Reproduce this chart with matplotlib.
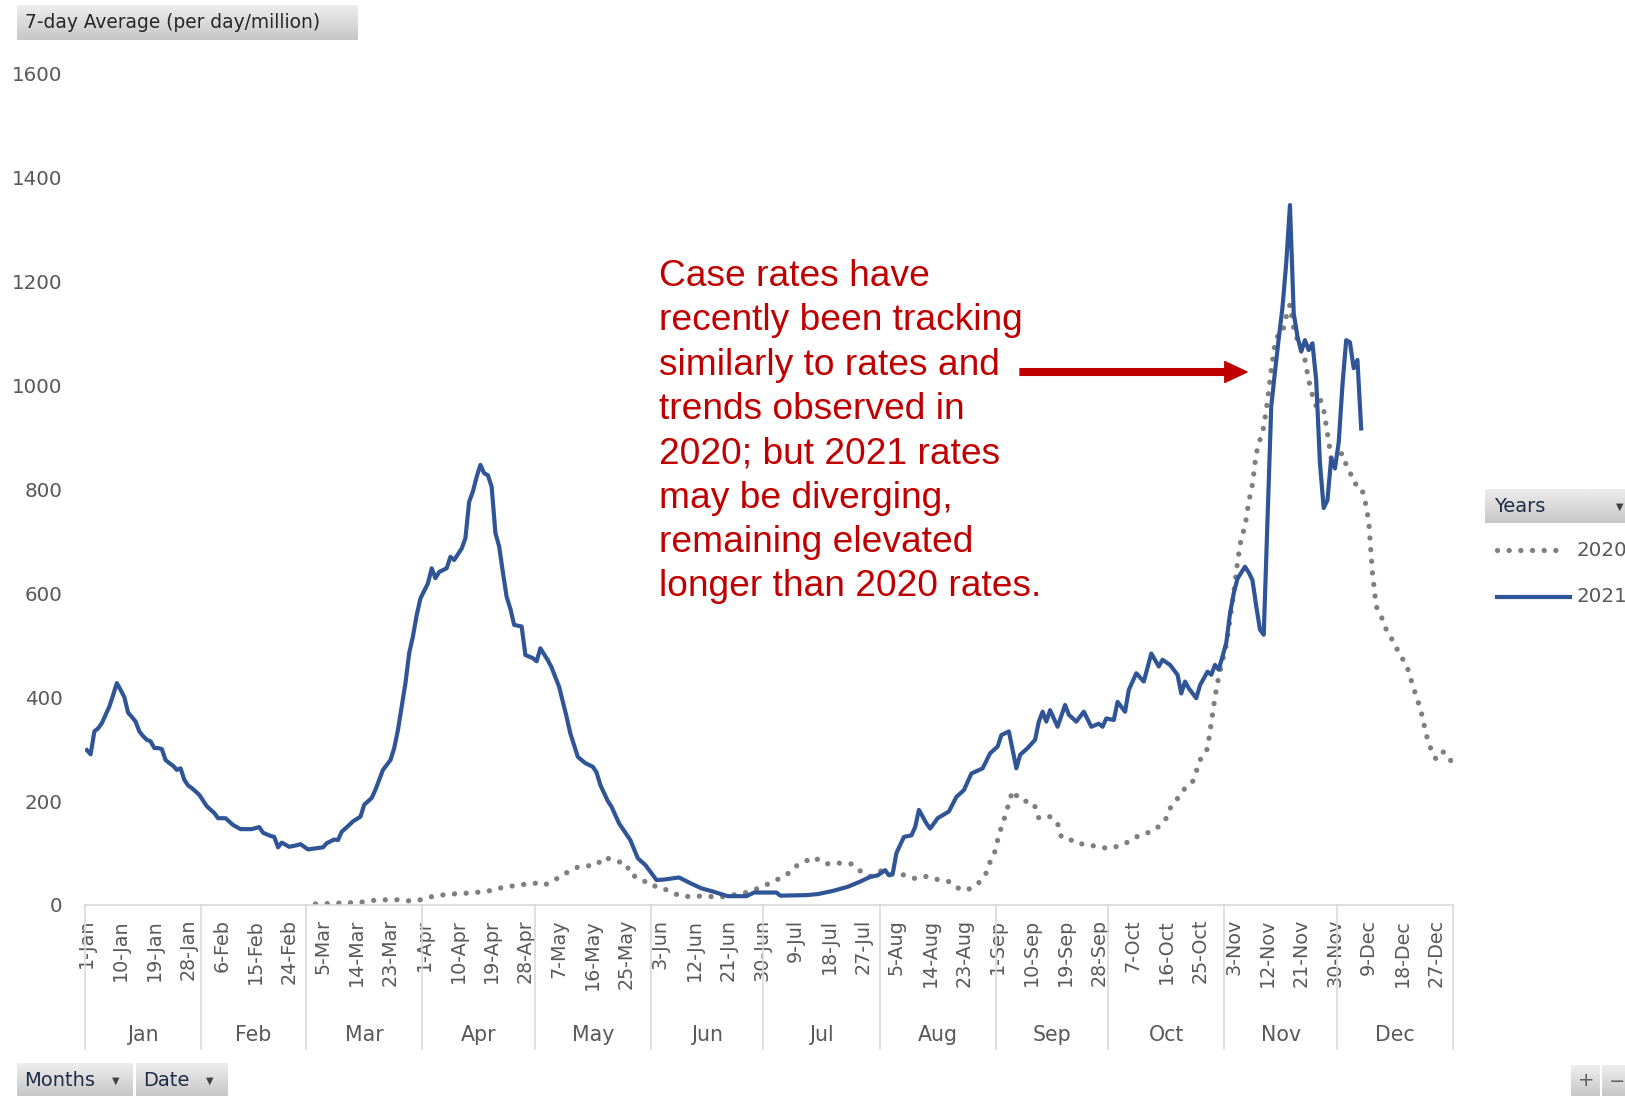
import matplotlib
matplotlib.use("Agg")
import matplotlib.pyplot as plt
import numpy as np
import pandas as pd
from matplotlib.lines import Line2D
from matplotlib.patches import FancyArrowPatch

# 7-day average cases per day per million, by day of year
days_2021 = [1, 2, 3, 4, 5, 6, 7, 8, 9, 10, 11, 12, 13, 14, 15, 16, 17, 18, 19, 20,
             21, 22, 23, 24, 25, 26, 27, 28, 29, 31, 33, 35, 36, 38, 40, 42, 45, 47, 48, 50,
             51, 52, 53, 55, 57, 58, 60, 62, 64, 65, 67, 68, 69, 71, 72, 74, 75, 77, 78, 79,
             80, 82, 83, 84, 85, 86, 87, 88, 89, 90, 92, 93, 94, 95, 97, 98, 99, 101, 102, 103,
             104, 105, 106, 107, 108, 109, 110, 111, 112, 113, 114, 115, 117, 118, 120, 121, 122, 124, 125, 127,
             129, 130, 132, 134, 136, 137, 138, 140, 141, 143, 146, 148, 150, 153, 155, 159, 162, 165, 168, 172,
             177, 179, 185, 186, 193, 196, 200, 204, 207, 210, 212, 214, 215, 216, 217, 219, 221, 222, 223, 225,
             226, 228, 231, 233, 235, 237, 240, 242, 244, 245, 247, 248, 249, 250, 252, 254, 255, 256, 257, 258,
             259, 260, 262, 263, 265, 267, 269, 271, 272, 273, 275, 276, 278, 279, 281, 283, 285, 287, 288, 290,
             292, 293, 294, 295, 297, 298, 300, 301, 302, 303, 305, 306, 307, 308, 310, 311, 312, 313, 314, 315,
             316, 317, 318, 319, 320, 321, 322, 323, 324, 325, 326, 327, 328, 329, 330, 331, 332, 333, 334, 335,
             336, 337, 338, 339, 340, 341]
cases_2021 = [298, 290, 334, 340, 350, 366, 382, 404, 427, 414, 400, 370, 362, 353, 334, 325, 318, 315, 302, 302,
              300, 279, 273, 268, 260, 263, 241, 230, 225, 212, 190, 177, 167, 167, 154, 146, 146, 150, 139, 133,
              131, 111, 120, 112, 115, 117, 107, 109, 111, 119, 126, 125, 141, 154, 161, 170, 193, 206, 222, 241,
              260, 279, 302, 337, 382, 427, 485, 517, 558, 590, 619, 648, 629, 641, 648, 670, 664, 686, 706, 776,
              796, 824, 847, 831, 827, 805, 716, 690, 640, 593, 570, 539, 536, 481, 475, 469, 494, 471, 457, 420,
              362, 330, 285, 273, 266, 255, 231, 200, 189, 157, 125, 90, 77, 48, 49, 53, 42, 32, 26, 17,
              17, 24, 24, 18, 19, 21, 27, 35, 44, 54, 57, 67, 57, 60, 100, 131, 134, 150, 183, 157,
              147, 167, 180, 208, 221, 253, 263, 292, 305, 327, 334, 298, 263, 289, 302, 318, 353, 372, 353, 375,
              359, 343, 385, 366, 353, 372, 343, 349, 343, 359, 356, 391, 372, 414, 446, 430, 484, 459, 472, 462,
              443, 407, 430, 417, 398, 423, 449, 443, 462, 453, 504, 561, 600, 628, 651, 640, 625, 575, 530, 520,
              740, 959, 1026, 1090, 1150, 1235, 1347, 1139, 1094, 1065, 1087, 1068, 1081, 1010, 850, 764, 779, 860, 840, 890,
              1000, 1087, 1083, 1033, 1049, 917]

days_2020 = [62, 66, 70, 74, 76, 80, 84, 87, 90, 92, 94, 97, 100, 103, 106, 109, 112, 115, 118, 121,
             123, 126, 129, 132, 134, 137, 139, 142, 145, 146, 149, 151, 154, 157, 160, 163, 166, 170, 173, 176,
             179, 182, 185, 188, 190, 193, 195, 198, 201, 205, 207, 210, 213, 216, 219, 222, 225, 228, 231, 234,
             236, 239, 241, 242, 243, 244, 245, 246, 247, 248, 250, 252, 253, 254, 255, 258, 260, 261, 263, 265,
             268, 271, 274, 277, 279, 282, 285, 287, 289, 290, 292, 294, 296, 297, 298, 300, 301, 302, 303, 304,
             305, 306, 307, 308, 309, 310, 311, 312, 313, 314, 315, 316, 317, 318, 319, 320, 321, 322, 323, 324,
             325, 326, 327, 328, 329, 330, 331, 332, 333, 334, 336, 337, 338, 339, 341, 342, 343, 344, 345, 346,
             347, 348, 350, 351, 353, 354, 355, 356, 357, 358, 359, 361, 363, 365]
cases_2020 = [2, 3, 4, 5, 8, 10, 10, 8, 10, 14, 18, 20, 22, 23, 25, 28, 34, 37, 40, 42,
              38, 49, 62, 73, 75, 77, 92, 85, 79, 58, 51, 38, 35, 24, 16, 17, 17, 15, 19, 22,
              29, 38, 48, 60, 74, 85, 92, 79, 81, 79, 67, 55, 66, 58, 58, 51, 55, 49, 45, 30,
              29, 43, 62, 83, 95, 125, 150, 171, 196, 220, 202, 199, 199, 189, 167, 170, 157, 131, 128, 118,
              117, 111, 109, 115, 122, 135, 141, 151, 167, 186, 205, 225, 237, 257, 279, 301, 350, 400, 440, 470,
              500, 550, 600, 660, 706, 728, 776, 810, 869, 895, 920, 970, 1030, 1081, 1100, 1102, 1132, 1155, 1110, 1087,
              1070, 1049, 1010, 981, 960, 975, 953, 908, 860, 865, 869, 847, 834, 812, 805, 779, 740, 640, 575, 560,
              545, 523, 504, 484, 464, 441, 417, 395, 372, 340, 310, 280, 295, 277]

month_names = ["Jan", "Feb", "Mar", "Apr", "May", "Jun", "Jul", "Aug", "Sep", "Oct", "Nov", "Dec"]
y_ticks = [0, 200, 400, 600, 800, 1000, 1200, 1400, 1600]

BLUE = "#2f5597"
GREY = "#7f7f7f"
RED = "#c00000"
TXT = "#595959"
W, H = 1625, 1096
DOTS = (0, (0.01, 2.2))

fig = plt.figure(figsize=(W / 100, H / 100), dpi=100)
plt.rcParams["font.family"] = "DejaVu Sans"


def px_rect(x0, y0, x1, y1):
    return [x0 / W, 1 - y1 / H, (x1 - x0) / W, (y1 - y0) / H]


ax = fig.add_axes(px_rect(85, 73.6, 1453, 905))

ax.plot(days_2020, cases_2020, color=GREY, lw=3.8, linestyle=DOTS, dash_capstyle="round")
ax.plot(days_2021, cases_2021, color=BLUE, lw=3.0, solid_joinstyle="round")

ax.set_xlim(0.5, 365.5)
ax.set_ylim(0, 1600)
ax.set_yticks(y_ticks)
ax.tick_params(axis="y", length=0, pad=16, labelsize=14.3, labelcolor=TXT)
for spine in ["top", "right", "left"]:
    ax.spines[spine].set_visible(False)
ax.spines["bottom"].set_color("#d9d9d9")
ax.spines["bottom"].set_linewidth(1.2)

# category tick labels every 9 days
dates = pd.date_range("2021-01-01", "2021-12-31")
tick_pos = list(range(1, 366, 9))
tick_lab = [f"{dates[p - 1].day}-{dates[p - 1].strftime('%b')}" for p in tick_pos]
ax.set_xticks(tick_pos)
ax.set_xticklabels(tick_lab, rotation=90, fontsize=13.8, color=TXT)
ax.tick_params(axis="x", length=0, pad=10)

# month grouping row
month_len = [dates[dates.month == m + 1].size for m in range(12)]
bounds = np.concatenate([[0], np.cumsum(month_len)]) + 0.5
trans = ax.get_xaxis_transform()
for b in bounds:
    ax.plot([b, b], [0, -0.173], transform=trans, color="#d9d9d9", lw=1.2, clip_on=False)
for i, m in enumerate(month_names):
    ax.text((bounds[i] + bounds[i + 1]) / 2, -0.156, m, transform=trans, ha="center",
            va="center", fontsize=14.8, color=TXT)

# annotation
note = ["Case rates have", "recently been tracking", "similarly to rates and",
        "trends observed in", "2020; but 2021 rates", "may be diverging,",
        "remaining elevated", "longer than 2020 rates."]
for i, line in enumerate(note):
    fig.text(659 / W, 1 - (286 + i * 44.3) / H, line, color=RED, fontsize=26.7,
             family="Liberation Sans", va="baseline", ha="left")
arrow = FancyArrowPatch((1020, H - 372), (1247, H - 372), transform=None,
                        arrowstyle="simple,head_length=16,head_width=15,tail_width=4.8",
                        mutation_scale=1, color=RED, shrinkA=0, shrinkB=0)
fig.add_artist(arrow)


def grey_button(x0, y0, x1, y1):
    bax = fig.add_axes(px_rect(x0, y0, x1, y1))
    grad = np.linspace(0.93, 0.78, 50).reshape(-1, 1)
    bax.imshow(grad, cmap="gray", vmin=0, vmax=1, aspect="auto", extent=[0, 1, 0, 1])
    bax.set_axis_off()
    return bax


# pivot field buttons
grey_button(16.6, 5, 357.5, 40)
fig.text(25 / W, 1 - 22.5 / H, "7-day Average (per day/million)", fontsize=13.4,
         color="#262626", va="center", ha="left")

grey_button(16.6, 1063, 132.6, 1096)
fig.text(24 / W, 1 - 1080 / H, "Months", fontsize=14, color="#1f2d4a", va="center")
fig.text(116 / W, 1 - 1081 / H, "▼", fontsize=7, color="#404040", va="center", ha="center")
grey_button(135.8, 1063, 227, 1096)
fig.text(143 / W, 1 - 1080 / H, "Date", fontsize=14, color="#1f2d4a", va="center")
fig.text(210 / W, 1 - 1081 / H, "▼", fontsize=7, color="#404040", va="center", ha="center")

grey_button(1571, 1065, 1625, 1096)
fig.add_artist(Line2D([1601 / W, 1601 / W], [0, 1 - 1065 / H], color="white", lw=1.5))
fig.text(1586 / W, 1 - 1081 / H, "+", fontsize=14, color="#606060", va="center", ha="center")
fig.text(1617 / W, 1 - 1081 / H, "−", fontsize=14, color="#606060", va="center", ha="center")

# legend
grey_button(1485, 489, 1625, 523)
fig.text(1494 / W, 1 - 506 / H, "Years", fontsize=14, color="#1f2d4a", va="center")
fig.text(1620 / W, 1 - 507 / H, "▼", fontsize=7, color="#404040", va="center", ha="center")
fig.add_artist(Line2D([1497 / W, 1563 / W], [1 - 550 / H, 1 - 550 / H], color=GREY, lw=3.8,
                      linestyle=DOTS, dash_capstyle="round"))
fig.add_artist(Line2D([1497 / W, 1570 / W], [1 - 597 / H, 1 - 597 / H], color=BLUE, lw=3.0))
fig.text(1577 / W, 1 - 550 / H, "2020", fontsize=14.3, color=TXT, va="center")
fig.text(1577 / W, 1 - 597 / H, "2021", fontsize=14.3, color=TXT, va="center")

fig.savefig("out.png", dpi=100)
